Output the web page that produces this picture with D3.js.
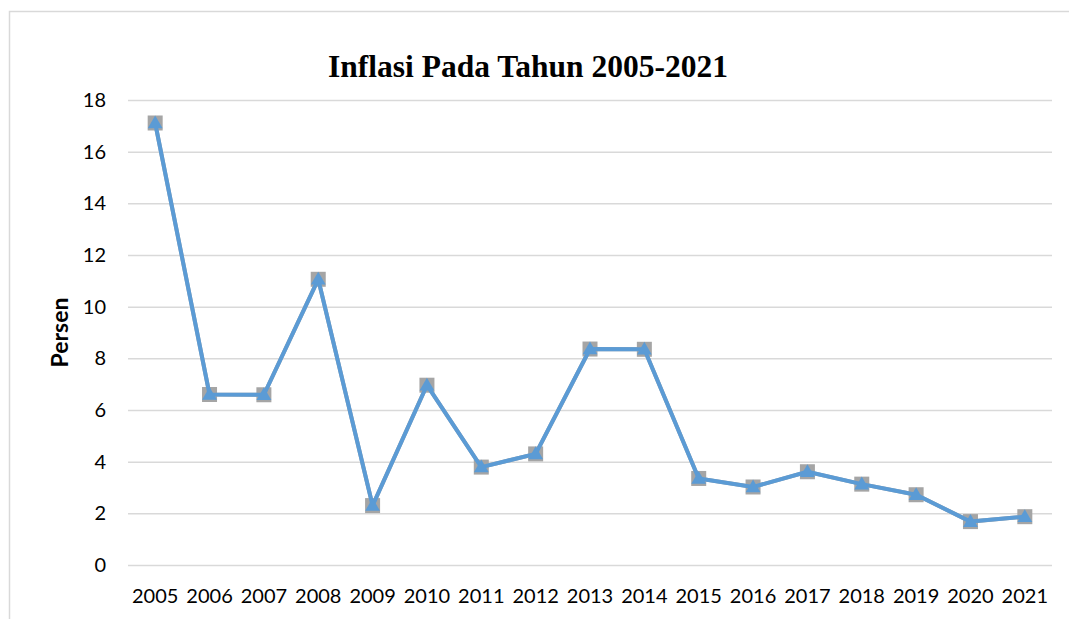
<!DOCTYPE html>
<html>
<head>
<meta charset="utf-8">
<script src="https://cdn.jsdelivr.net/npm/d3@7"></script>
<style>
  body { margin: 0; background: #fff; }
</style>
</head>
<body>
<script>
const width = 1069;
const height = 619;
const margin = { top: 100, right: 17, bottom: 54, left: 128 };

const years = ["2005", "2006", "2007", "2008", "2009", "2010", "2011", "2012", "2013",
  "2014", "2015", "2016", "2017", "2018", "2019", "2020", "2021"];
const inflasi = [17.11, 6.6, 6.59, 11.06, 2.3, 6.96, 3.79, 4.3, 8.36, 8.35, 3.35, 3.02,
  3.61, 3.13, 2.72, 1.68, 1.87];
const yTicks = [0, 2, 4, 6, 8, 10, 12, 14, 16, 18];

const svg = d3.select("body").append("svg")
  .attr("width", width)
  .attr("height", height);

// chart frame (right and bottom edges fall outside the picture)
svg.append("rect")
  .attr("x", 9.5)
  .attr("y", 11.5)
  .attr("width", 1200)
  .attr("height", 800)
  .attr("fill", "none")
  .attr("stroke", "#d9d9d9")
  .attr("stroke-width", 1.5);

const x = d3.scaleBand()
  .domain(years)
  .range([margin.left, width - margin.right]);

const y = d3.scaleLinear()
  .domain([0, 18])
  .range([height - margin.bottom, margin.top]);

const cx = d => x(d) + x.bandwidth() / 2;

// gridlines + y labels
const yAxis = d3.axisLeft(y)
  .tickValues(yTicks)
  .tickSize(-(width - margin.right - margin.left))
  .tickPadding(22);

svg.append("g")
  .attr("transform", `translate(${margin.left}, 0)`)
  .call(yAxis)
  .call(g => g.select(".domain").remove())
  .call(g => g.selectAll(".tick line").attr("stroke", "#d9d9d9").attr("stroke-width", 1.5))
  .call(g => g.selectAll(".tick text")
    .attr("font-family", "Lato, 'Open Sans', sans-serif")
    .attr("font-size", "20px")
    .attr("fill", "#000"));

// x labels
const xAxis = d3.axisBottom(x).tickSize(0).tickPadding(24);

svg.append("g")
  .attr("transform", `translate(0, ${height - margin.bottom})`)
  .call(xAxis)
  .call(g => g.select(".domain").remove())
  .call(g => g.selectAll(".tick text")
    .attr("font-family", "Lato, 'Open Sans', sans-serif")
    .attr("font-size", "20px")
    .attr("fill", "#000"));

// title
svg.append("text")
  .attr("x", 528)
  .attr("y", 77)
  .attr("text-anchor", "middle")
  .attr("font-family", "'Liberation Serif', 'Times New Roman', serif")
  .attr("font-weight", "bold")
  .attr("font-size", "31.5px")
  .attr("fill", "#000")
  .text("Inflasi Pada Tahun 2005-2021");

// y axis title
svg.append("text")
  .attr("transform", `translate(68, ${(margin.top + height - margin.bottom) / 2}) rotate(-90)`)
  .attr("text-anchor", "middle")
  .attr("font-family", "Lato, 'Open Sans', sans-serif")
  .attr("font-weight", "bold")
  .attr("font-size", "23px")
  .attr("fill", "#000")
  .text("Persen");

const line = d3.line()
  .x((d, i) => cx(years[i]))
  .y(d => y(d));

// grey series (squares), mostly hidden behind the blue one
svg.append("path")
  .datum(inflasi)
  .attr("d", line)
  .attr("fill", "none")
  .attr("stroke", "#a5a5a5")
  .attr("stroke-width", 4);

svg.append("g")
  .selectAll("rect")
  .data(inflasi)
  .join("rect")
  .attr("x", (d, i) => cx(years[i]) - 7.5)
  .attr("y", d => y(d) - 7.5)
  .attr("width", 15)
  .attr("height", 15)
  .attr("fill", "#a5a5a5");

// blue series (triangles)
svg.append("path")
  .datum(inflasi)
  .attr("d", line)
  .attr("fill", "none")
  .attr("stroke", "#5b9bd5")
  .attr("stroke-width", 4)
  .attr("stroke-linejoin", "round");

const tri = d3.symbol().type(d3.symbolTriangle).size(95);

svg.append("g")
  .selectAll("path")
  .data(inflasi)
  .join("path")
  .attr("d", tri)
  .attr("transform", (d, i) => `translate(${cx(years[i])}, ${y(d) + 1})`)
  .attr("fill", "#5b9bd5");
</script>
</body>
</html>
